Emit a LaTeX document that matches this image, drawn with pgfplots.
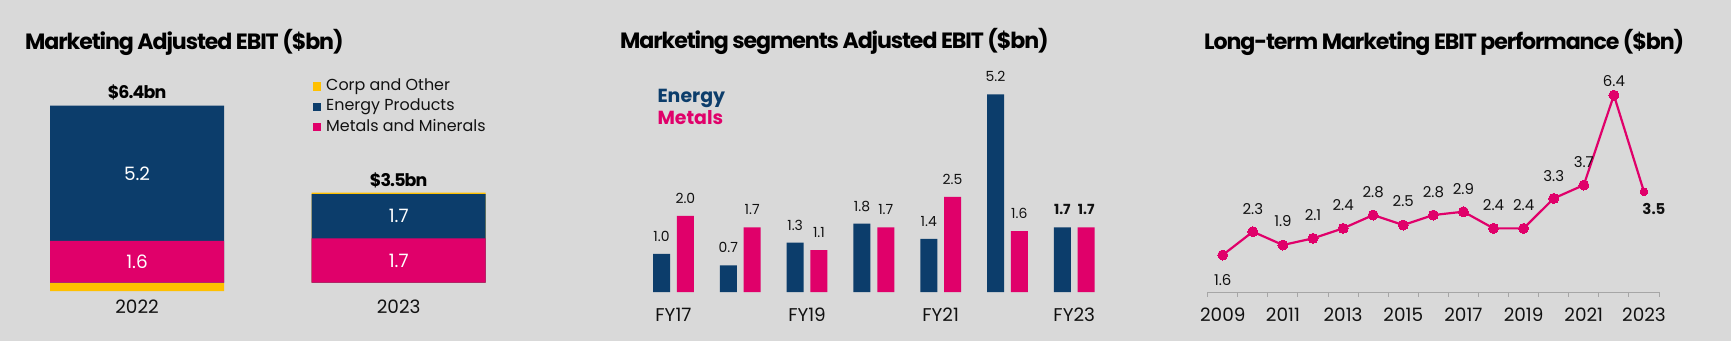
\documentclass[border=0pt]{standalone}
\usepackage{pgfplots}
\pgfplotsset{compat=1.18}
\usepackage{pgfplotstable}
\usepackage{fontspec}
\setmainfont{Poppins}
\newfontfamily\titlefont[LetterSpace=-5]{Poppins}
\definecolor{bg}{HTML}{D9D9D9}
\definecolor{navy}{HTML}{0C3D6B}
\definecolor{mpink}{HTML}{E0006A}
\definecolor{myellow}{HTML}{FFC000}
\definecolor{txt}{HTML}{111111}
\definecolor{axgray}{HTML}{A6A6A6}

% Chart 1: bar tops (drawn back to front: corp, energy cumulative, metals)
\pgfplotstableread{
x  corp   energy  metals
0  -0.33  6.8     1.6
1  3.46   3.4     1.7
}\totaldata

% Chart 2
\pgfplotstableread{
x  e    m    el            ml
0  1.0  2.0  1.0           2.0
1  0.7  1.7  0.7           1.7
2  1.3  1.1  1.3           1.1
3  1.8  1.7  1.8           1.7
4  1.4  2.5  1.4           2.5
5  5.2  1.6  5.2           1.6
6  1.7  1.7  \textbf{1.7}  \textbf{1.7}
}\segdata

% Chart 3
\pgfplotstableread{
x     y    lab  dy
2009  1.6  1.6  -25
2010  2.3  2.3  23
2011  1.9  1.9  23.5
2012  2.1  2.1  23.3
2013  2.4  2.4  23.3
2014  2.8  2.8  22.7
2015  2.5  2.5  23.7
2016  2.8  2.8  22.7
2017  2.9  2.9  23
2018  2.4  2.4  23.7
2019  2.4  2.4  23
2020  3.3  3.3  22.7
2021  3.7  3.7  22.7
2022  6.4  6.4  14
}\ltdata
\pgfplotstableread{
x     y
2022  6.4
2023  3.5
}\ltlast
\pgfplotstableread{
x     y    lab
2023  3.5  \textbf{3.5}
}\ltend

\begin{document}
\begin{tikzpicture}
\fill[bg] (0,0) rectangle (1731bp,341bp);
\useasboundingbox (0,0) rectangle (1731bp,341bp);

% ---------- Titles ----------
\node[anchor=base west, inner sep=0pt, text=black, font={\titlefont\bfseries\fontsize{22.2}{25}\selectfont}] at (25bp,291.5bp) {Marketing Adjusted EBIT (\$bn)};
\node[anchor=base west, inner sep=0pt, text=black, font={\titlefont\bfseries\fontsize{22.2}{25}\selectfont}] at (620bp,292.5bp) {Marketing segments Adjusted EBIT (\$bn)};
\node[anchor=base west, inner sep=0pt, text=black, font={\titlefont\bfseries\fontsize{22.2}{25}\selectfont}] at (1204bp,291bp) {Long-term Marketing EBIT performance (\$bn)};

% ---------- Chart 1 ----------
\begin{axis}[at={(6.2bp,45.5bp)}, anchor=south west, scale only axis,
  width=523.3bp, height=208bp,
  xmin=-0.5, xmax=1.5, ymin=-0.5, ymax=7.5, clip=false,
  axis line style={draw=none}, ytick=\empty,
  xtick={0,1}, xticklabels={2022,2023}, major tick length=0pt,
  xticklabel style={anchor=center, yshift=-11.5bp, text=txt, font=\fontsize{18.5}{21}\selectfont},
  ybar, bar width=174bp, bar shift=0pt,
  legend style={at={(0.585,1.042)}, anchor=north west, draw=none, fill=none,
    inner sep=0pt, row sep=5.3bp, column sep=5.5bp,
    font=\fontsize{16}{18}\selectfont, text=txt,
    nodes={inner sep=0pt, text height=11.5bp, text depth=3.5bp}},
  legend cell align=left,
]
\addplot[fill=myellow, draw=none, legend image code/.code={\fill[myellow] (0bp,-4.1bp) rectangle (8.2bp,4.1bp);}] table[x=x,y=corp] {\totaldata};
\addplot[fill=navy, draw=none, legend image code/.code={\fill[navy] (0bp,-4.1bp) rectangle (8.2bp,4.1bp);}] table[x=x,y=energy] {\totaldata};
\addplot[fill=mpink, draw=none, legend image code/.code={\fill[mpink] (0bp,-4.1bp) rectangle (8.2bp,4.1bp);}] table[x=x,y=metals] {\totaldata};
\legend{Corp and Other, Energy Products, Metals and Minerals}
\node[text=white, font=\fontsize{18.5}{21}\selectfont] at (axis cs:0,4.2) {5.2};
\node[text=white, font=\fontsize{18.5}{21}\selectfont] at (axis cs:0,0.8) {1.6};
\node[text=white, font=\fontsize{18.5}{21}\selectfont] at (axis cs:1,2.55) {1.7};
\node[text=white, font=\fontsize{18.5}{21}\selectfont] at (axis cs:1,0.85) {1.7};
\node[text=black, font={\titlefont\bfseries\fontsize{17.5}{20}\selectfont}, yshift=13.5bp] at (axis cs:0,6.8) {\$6.4bn};
\node[text=black, font={\titlefont\bfseries\fontsize{17.5}{20}\selectfont}, yshift=12.5bp] at (axis cs:1,3.46) {\$3.5bn};
\end{axis}

% ---------- Chart 2 ----------
\begin{axis}[at={(626.7bp,49bp)}, anchor=south west, scale only axis,
  width=494.3bp, height=220.4bp,
  xmin=-0.7, xmax=6.7, ymin=0, ymax=5.8, clip=false,
  axis line style={draw=none}, ytick=\empty,
  xtick={0,2,4,6}, xticklabels={FY17,FY19,FY21,FY23}, major tick length=0pt,
  xticklabel style={anchor=center, yshift=-23bp, text=txt, font=\fontsize{18.5}{21}\selectfont},
  ybar=6.8bp, bar width=17bp,
  nodes near coords, point meta=explicit symbolic,
  every node near coord/.append style={anchor=center, yshift=17.5bp, text=txt, font=\fontsize{14}{16}\selectfont},
]
\addplot[fill=navy, draw=none] table[x=x,y=e,meta=el] {\segdata};
\addplot[fill=mpink, draw=none] table[x=x,y=m,meta=ml] {\segdata};
\node[anchor=base west, inner sep=0pt, text=navy, font={\bfseries\fontsize{19}{22}\selectfont}] at (rel axis cs:0.0619,0.859) {Energy};
\node[anchor=base west, inner sep=0pt, text=mpink, font={\bfseries\fontsize{19}{22}\selectfont}] at (rel axis cs:0.0619,0.762) {Metals};
\end{axis}

% ---------- Chart 3 ----------
\begin{axis}[at={(1207.7bp,48.7bp)}, anchor=south west, scale only axis,
  width=451.3bp, height=213.8bp,
  xmin=2008.5, xmax=2023.5, ymin=0.48, ymax=6.9, clip=false,
  axis x line=bottom, axis y line=none, ytick=\empty,
  x axis line style={-, draw=axgray, line width=1bp},
  xtick={2009,2011,2013,2015,2017,2019,2021,2023},
  xticklabels={2009,2011,2013,2015,2017,2019,2021,2023},
  minor xtick={2008.5,2009.5,2010.5,2011.5,2012.5,2013.5,2014.5,2015.5,2016.5,2017.5,2018.5,2019.5,2020.5,2021.5,2022.5,2023.5},
  major tick length=0pt, minor tick length=4.4bp, tick align=outside,
  minor x tick style={draw=axgray, line width=1bp},
  xticklabel style={anchor=center, yshift=-22.7bp, text=txt, font=\fontsize{18.5}{21}\selectfont},
]
\addplot[mpink, line width=2.2bp, no marks] table[x=x,y=y] {\ltlast};
\addplot[mpink, line width=2.2bp, mark=*, mark size=5bp, mark options={fill=mpink, draw=mpink, line width=0pt},
  nodes near coords, point meta=explicit symbolic,
  visualization depends on={\thisrow{dy}\as\dy},
  every node near coord/.append style={anchor=center, yshift=\dy*1bp, text=txt, font=\fontsize{15}{17}\selectfont}]
  table[x=x,y=y,meta=lab] {\ltdata};
\addplot[only marks, mark=*, mark size=3.9bp, mark options={fill=mpink, draw=mpink, line width=0pt},
  nodes near coords, point meta=explicit symbolic,
  every node near coord/.append style={anchor=center, xshift=10bp, yshift=-17.3bp, text=txt, font=\fontsize{15}{17}\selectfont}]
  table[x=x,y=y,meta=lab] {\ltend};
\end{axis}
\end{tikzpicture}
\end{document}
